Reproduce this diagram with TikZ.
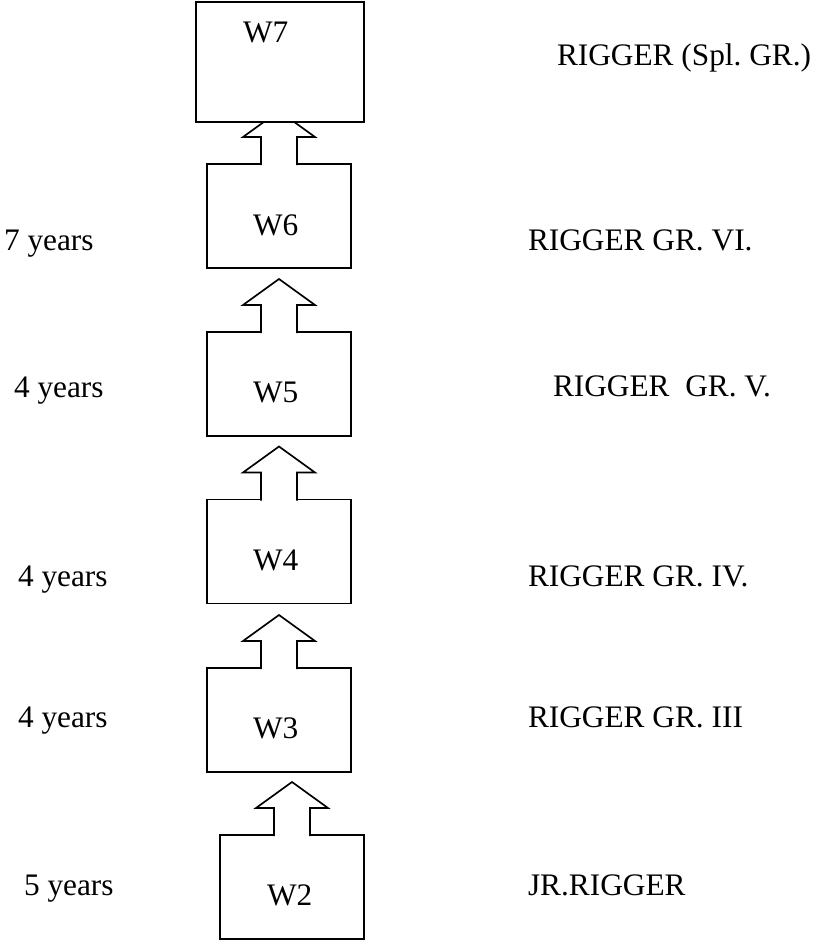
\documentclass[tikz,border=0pt]{standalone}
\usepackage{fontspec}
\setmainfont{Liberation Serif}
\usetikzlibrary{calc}
\frenchspacing
\tikzset{
  wbox/.style={draw, fill=white, line width=1.25pt, inner sep=0pt, outer sep=0pt, minimum width=108pt, minimum height=78pt},
  topbox/.style={wbox, minimum width=126pt, minimum height=90pt},
  txt/.style={anchor=base west, inner sep=0pt, outer sep=0pt},
  barrow/.style={draw, fill=white, line width=1.25pt, line join=miter},
}
\begin{document}
\begin{tikzpicture}[x=0.75pt, y=-0.75pt, font=\fontsize{23.5}{28}\selectfont]
\useasboundingbox (0,0) rectangle (817,943);
% boxes
\node[wbox] (w6) at (279,216) {};
\node[wbox] (w5) at (279,384) {};
\node[wbox] (w4) at (279,551.5) {};
\node[wbox] (w3) at (279,720) {};
\node[wbox] (w2) at (292,887) {};
% block arrows (lower box to upper box)
\foreach \b in {w2,w3,w4,w5,w6}{
  \draw[barrow] ($(\b.north)+(-18,1)$) -- ++(0,-28) -- ++(-18,0) -- ++(36,-26) -- ++(36,26) -- ++(-18,0) -- ++(0,28);
}
\node[topbox] (w7) at (280,62) {};
% box texts
\node[txt] (t7) at (243,42) {W7};
\node[txt] (t6) at (253,235) {W6};
\node[txt] (t5) at (253,402) {W5};
\node[txt] (t4) at (253,570) {W4};
\node[txt] (t3) at (253,738) {W3};
\node[txt] (t2) at (267,905) {W2};
% left labels
\node[txt] (y6) at (4,250) {7 years};
\node[txt] (y5) at (14,397) {4 years};
\node[txt] (y4) at (18,586) {4 years};
\node[txt] (y3) at (18,727) {4 years};
\node[txt] (y2) at (24,895) {5 years};
% right labels
\node[txt] (r7) at (557,65) {RIGGER (Spl.\ GR.)};
\node[txt] (r6) at (528,250) {RIGGER GR.\ VI.};
\node[txt] (r5) at (553,396) {RIGGER\ \ GR.\ V.};
\node[txt] (r4) at (528,586) {RIGGER GR.\ IV.};
\node[txt] (r3) at (528,727) {RIGGER GR.\ III};
\node[txt] (r2) at (528,895) {JR.RIGGER};
\end{tikzpicture}
\end{document}
